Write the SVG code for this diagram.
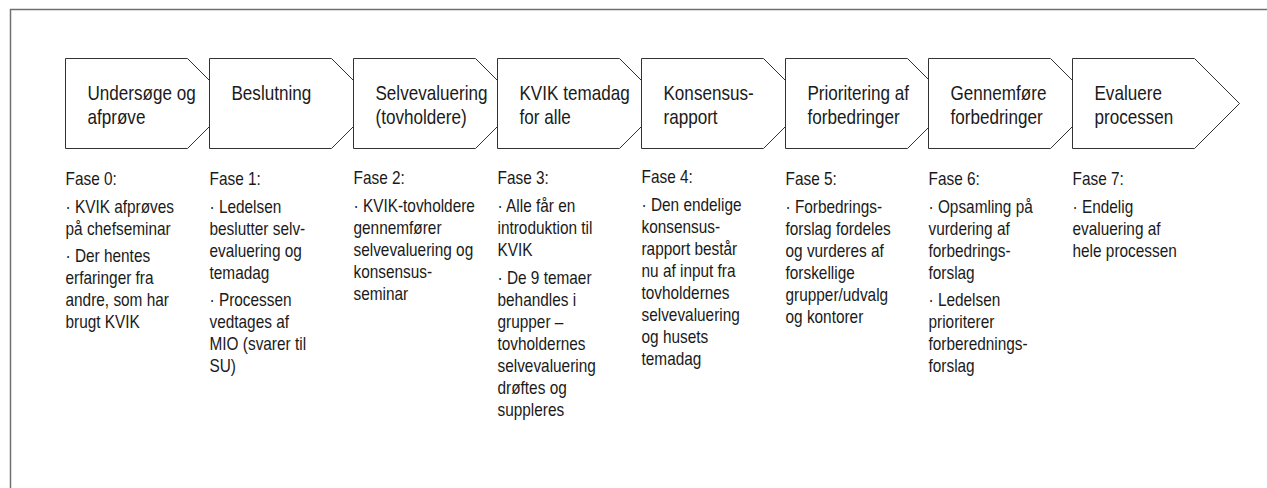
<svg xmlns="http://www.w3.org/2000/svg" width="1267" height="488" viewBox="0 0 1267 488">
<style>
.frame{fill:none;stroke:#707070;stroke-width:1.5}
.chev{fill:#fff;stroke:#333;stroke-width:1}
.t{font-family:"Liberation Sans",Arial,sans-serif;font-size:20px;fill:#1a1a1a}
.b{font-family:"Liberation Sans",Arial,sans-serif;font-size:18px;fill:#1a1a1a}
</style>
<defs>
<polygon id="chevShape" class="chev" points="0,0 122,0 167,45 122,90 0,90"/>
</defs>
<rect width="1267" height="488" fill="#fff"/>
<path class="frame" d="M10.5,488 V9.5 H1267"/>
<g id="connectors"></g>

<g id="node0" transform="translate(65.5,58.5)">
<use href="#chevShape"/>
<g transform="scale(0.855,1)">
<text class="t" x="25.7" y="41.5">Undersøge og</text>
<text class="t" x="25.7" y="65.5">afprøve</text>
<text class="b" x="0" y="126.5">Fase 0:</text>
<text class="b" x="0" y="154.5">· KVIK afprøves</text>
<text class="b" x="0" y="176.5">på chefseminar</text>
<text class="b" x="0" y="204">· Der hentes</text>
<text class="b" x="0" y="226">erfaringer fra</text>
<text class="b" x="0" y="248">andre, som har</text>
<text class="b" x="0" y="270">brugt KVIK</text>
</g>
</g>

<g id="node1" transform="translate(209.5,58.5)">
<use href="#chevShape"/>
<g transform="scale(0.855,1)">
<text class="t" x="25.7" y="41.5">Beslutning</text>
<text class="b" x="0" y="126.5">Fase 1:</text>
<text class="b" x="0" y="154.5">· Ledelsen</text>
<text class="b" x="0" y="176.5">beslutter selv-</text>
<text class="b" x="0" y="198.5">evaluering og</text>
<text class="b" x="0" y="220.5">temadag</text>
<text class="b" x="0" y="248">· Processen</text>
<text class="b" x="0" y="270">vedtages af</text>
<text class="b" x="0" y="292">MIO (svarer til</text>
<text class="b" x="0" y="314">SU)</text>
</g>
</g>

<g id="node2" transform="translate(353.5,58.5)">
<use href="#chevShape"/>
<g transform="scale(0.855,1)">
<text class="t" x="25.7" y="41.5">Selvevaluering</text>
<text class="t" x="25.7" y="65.5">(tovholdere)</text>
<text class="b" x="0" y="126">Fase 2:</text>
<text class="b" x="0" y="154">· KVIK-tovholdere</text>
<text class="b" x="0" y="176">gennemfører</text>
<text class="b" x="0" y="198">selvevaluering og</text>
<text class="b" x="0" y="220">konsensus-</text>
<text class="b" x="0" y="242">seminar</text>
</g>
</g>

<g id="node3" transform="translate(497.5,58.5)">
<use href="#chevShape"/>
<g transform="scale(0.855,1)">
<text class="t" x="25.7" y="41.5">KVIK temadag</text>
<text class="t" x="25.7" y="65.5">for alle</text>
<text class="b" x="0" y="125.5">Fase 3:</text>
<text class="b" x="0" y="154">· Alle får en</text>
<text class="b" x="0" y="176">introduktion til</text>
<text class="b" x="0" y="198">KVIK</text>
<text class="b" x="0" y="225.5">· De 9 temaer</text>
<text class="b" x="0" y="247.5">behandles i</text>
<text class="b" x="0" y="269.5">grupper –</text>
<text class="b" x="0" y="291.5">tovholdernes</text>
<text class="b" x="0" y="313.5">selvevaluering</text>
<text class="b" x="0" y="335.5">drøftes og</text>
<text class="b" x="0" y="357.5">suppleres</text>
</g>
</g>

<g id="node4" transform="translate(641.5,58.5)">
<use href="#chevShape"/>
<g transform="scale(0.855,1)">
<text class="t" x="25.7" y="41.5">Konsensus-</text>
<text class="t" x="25.7" y="65.5">rapport</text>
<text class="b" x="0" y="124.5">Fase 4:</text>
<text class="b" x="0" y="152.5">· Den endelige</text>
<text class="b" x="0" y="174.5">konsensus-</text>
<text class="b" x="0" y="196.5">rapport består</text>
<text class="b" x="0" y="218.5">nu af input fra</text>
<text class="b" x="0" y="240.5">tovholdernes</text>
<text class="b" x="0" y="262.5">selvevaluering</text>
<text class="b" x="0" y="284.5">og husets</text>
<text class="b" x="0" y="306.5">temadag</text>
</g>
</g>

<g id="node5" transform="translate(785.5,58.5)">
<use href="#chevShape"/>
<g transform="scale(0.855,1)">
<text class="t" x="25.7" y="41.5">Prioritering af</text>
<text class="t" x="25.7" y="65.5">forbedringer</text>
<text class="b" x="0" y="126.5">Fase 5:</text>
<text class="b" x="0" y="154.5">· Forbedrings-</text>
<text class="b" x="0" y="176.5">forslag fordeles</text>
<text class="b" x="0" y="198.5">og vurderes af</text>
<text class="b" x="0" y="220.5">forskellige</text>
<text class="b" x="0" y="242.5">grupper/udvalg</text>
<text class="b" x="0" y="264.5">og kontorer</text>
</g>
</g>

<g id="node6" transform="translate(928.5,58.5)">
<use href="#chevShape"/>
<g transform="scale(0.855,1)">
<text class="t" x="25.7" y="41.5">Gennemføre</text>
<text class="t" x="25.7" y="65.5">forbedringer</text>
<text class="b" x="0" y="126.5">Fase 6:</text>
<text class="b" x="0" y="154.5">· Opsamling på</text>
<text class="b" x="0" y="176.5">vurdering af</text>
<text class="b" x="0" y="198.5">forbedrings-</text>
<text class="b" x="0" y="220.5">forslag</text>
<text class="b" x="0" y="248">· Ledelsen</text>
<text class="b" x="0" y="270">prioriterer</text>
<text class="b" x="0" y="292">forberednings-</text>
<text class="b" x="0" y="314">forslag</text>
</g>
</g>

<g id="node7" transform="translate(1072.5,58.5)">
<use href="#chevShape"/>
<g transform="scale(0.855,1)">
<text class="t" x="25.7" y="41.5">Evaluere</text>
<text class="t" x="25.7" y="65.5">processen</text>
<text class="b" x="0" y="126.5">Fase 7:</text>
<text class="b" x="0" y="154.5">· Endelig</text>
<text class="b" x="0" y="176.5">evaluering af</text>
<text class="b" x="0" y="198.5">hele processen</text>
</g>
</g>
</svg>
